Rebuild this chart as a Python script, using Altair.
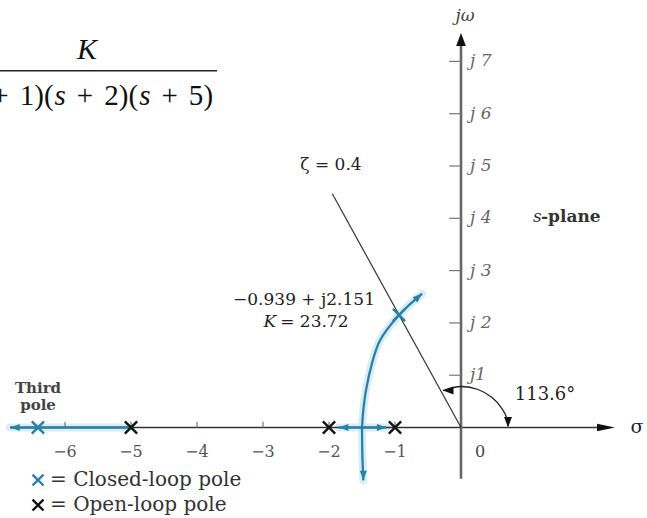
import altair as alt
import pandas as pd

# ---- s-plane window (real part sigma, imaginary part omega) ----
SIGMA_RANGE = [-6.985, 2.818]
OMEGA_RANGE = [-1.730, 8.174]

# ---- root locus of K / ((s+1)(s+2)(s+5)) ----
open_loop_poles = [-1.0, -2.0, -5.0]
closed_loop_re = [-0.939, -6.41]
closed_loop_im = [2.151, 0.0]

# complex branch leaving the breakaway point (upper half) and its lower stub
upper_re = [-1.5, -1.485, -1.44, -1.35, -1.23, -0.939, -0.59]
upper_im = [0.0, 0.27, 0.71, 1.22, 1.66, 2.151, 2.56]
lower_re = [-1.5, -1.495, -1.48]
lower_im = [0.0, -0.5, -1.01]
# real-axis parts of the locus
left_re = [-5.0, -6.83]
mid_re = [-1.85, -1.13]

# damping-ratio line, zeta = 0.4
zeta_re = [0.0, -1.95]
zeta_im = [0.0, 4.47]

# arc marking the 113.6 degree angle
arc_re = [-0.273, 0.0, 0.258, 0.47, 0.621, 0.697, 0.712]
arc_im = [0.707, 0.784, 0.727, 0.574, 0.363, 0.172, 0.03]

re_ticks = [-6, -5, -4, -3, -2, -1]
re_tick_labels = ["−6", "−5", "−4", "−3", "−2", "−1"]
im_ticks = [1, 2, 3, 4, 5, 6, 7]
im_tick_labels = ["j1", "j 2", "j 3", "j 4", "j 5", "j 6", "j 7"]

# denominator (s + 1)(s + 2)(s + 5), typeset glyph by glyph
den_glyphs = ["(", "s", "+", "1", ")", "(", "s", "+", "2", ")", "(", "s", "+", "5", ")"]
den_italic = [g == "s" for g in den_glyphs]

SERIF = "DejaVu Serif"
TIMES = "Liberation Serif"
BLUE = "#2a80a6"
HALO = "#cfe9f3"
X_SHAPE = "M-1,-1L1,1M-1,1L1,-1"
HEAD = "M0,0L-2,-0.75L-2,0.75Z"
SLIM_HEAD = "M0,0L-2,-0.42L-2,0.42Z"

xs = alt.Scale(domain=SIGMA_RANGE, nice=False, zero=False)
ys = alt.Scale(domain=OMEGA_RANGE, nice=False, zero=False)


def ex(f="x"):
    return alt.X(f"{f}:Q", scale=xs, axis=None)


def why(f="y"):
    return alt.Y(f"{f}:Q", scale=ys, axis=None)


def rules(df, color, width):
    return alt.Chart(df).mark_rule(color=color, strokeWidth=width).encode(
        x=ex("x"), x2=alt.X2("x2:Q"), y=why("y"), y2=alt.Y2("y2:Q")
    )


def label(text, sx, sy, size=16, align="center", font=SERIF, style="normal",
          weight="normal", color="#333"):
    df = pd.DataFrame({"x": [sx], "y": [sy], "t": [text]})
    return alt.Chart(df).mark_text(
        font=font, fontSize=size, align=align, baseline="middle",
        fontStyle=style, fontWeight=weight, color=color
    ).encode(x=ex(), y=why(), text="t:N")


# locus polylines
rows = []
for name, re_, im_ in [("upper", upper_re, upper_im), ("lower", lower_re, lower_im),
                       ("left", left_re, [0.0] * len(left_re)),
                       ("mid", mid_re, [0.0] * len(mid_re))]:
    for i, (a, b) in enumerate(zip(re_, im_)):
        rows.append({"seg": name, "i": i, "x": a, "y": b})
locus = pd.DataFrame(rows)

locus_enc = dict(x=ex(), y=why(), detail="seg:N", order=alt.Order("i:Q"))
halo = alt.Chart(locus).mark_line(color=HALO, strokeWidth=8, opacity=0.8,
                                  interpolate="catmull-rom", strokeCap="round").encode(**locus_enc)
branches = alt.Chart(locus).mark_line(color=BLUE, strokeWidth=2.3,
                                      interpolate="catmull-rom").encode(**locus_enc)

# axes
axis_h = rules(pd.DataFrame({"x": [left_re[-1]], "x2": [2.1], "y": [0.0], "y2": [0.0]}), "#333", 1.6)
axis_v = rules(pd.DataFrame({"x": [0.0], "x2": [0.0], "y": [-0.98], "y2": [7.3]}), "#666", 2.6)
im_tick_marks = rules(pd.DataFrame({"x": [-0.18] * 7, "x2": [0.0] * 7,
                                    "y": im_ticks, "y2": im_ticks}), "#777", 1.2)
re_tick_marks = rules(pd.DataFrame({"x": re_ticks, "x2": re_ticks,
                                    "y": [0.0] * 6, "y2": [0.11] * 6}), "#777", 1.2)

zeta = alt.Chart(pd.DataFrame({"x": zeta_re, "y": zeta_im, "i": [0, 1]})).mark_line(
    color="#333", strokeWidth=1.2).encode(x=ex(), y=why(), order=alt.Order("i:Q"))

arc = alt.Chart(pd.DataFrame({"x": arc_re, "y": arc_im, "i": range(len(arc_re))})).mark_line(
    color="#222", strokeWidth=1.3, interpolate="catmull-rom").encode(
    x=ex(), y=why(), order=alt.Order("i:Q"))


def heads(xv, yv, ang, shape, size, color):
    df = pd.DataFrame({"x": xv, "y": yv, "a": ang})
    return alt.Chart(df).mark_point(shape=shape, size=size, filled=True, color=color,
                                    opacity=1, strokeWidth=0).encode(
        x=ex(), y=why(), angle=alt.Angle("a:Q", scale=None))


blue_heads = heads([left_re[-1], mid_re[0], mid_re[1], upper_re[-1], lower_re[-1]],
                   [0.0, 0.0, 0.0, upper_im[-1], lower_im[-1]],
                   [180, 180, 0, 318, 90], HEAD, 90, BLUE)
axis_head_h = heads([2.333], [0.0], [0], SLIM_HEAD, 324, "#111")
axis_head_v = heads([0.0], [7.543], [270], HEAD, 170, "#111")
arc_heads = heads([arc_re[0], arc_re[-1]], [arc_im[0], arc_im[-1] - 0.03],
                  [180, 90], HEAD, 110, "#111")

# pole markers
open_marks = alt.Chart(pd.DataFrame({"x": open_loop_poles, "y": [0.0] * 3})).mark_point(
    shape=X_SHAPE, size=150, filled=False, color="#111", strokeWidth=2.4, opacity=1).encode(
    x=ex(), y=why())
closed_marks = alt.Chart(pd.DataFrame({"x": closed_loop_re, "y": closed_loop_im})).mark_point(
    shape=X_SHAPE, size=150, filled=False, color=BLUE, strokeWidth=2.4, opacity=1).encode(
    x=ex(), y=why())
legend_marks = alt.Chart(pd.DataFrame({"x": [-6.409, -6.409], "y": [-1.004, -1.482],
                                       "c": [BLUE, "#111"]})).mark_point(
    shape=X_SHAPE, size=120, filled=False, strokeWidth=2.4, opacity=1).encode(
    x=ex(), y=why(), color=alt.Color("c:N", scale=None))

# tick labels
re_lab = alt.Chart(pd.DataFrame({"x": re_ticks, "y": [-0.468] * 6, "t": re_tick_labels})).mark_text(
    font=SERIF, fontSize=16, color="#555", baseline="middle").encode(x=ex(), y=why(), text="t:N")
im_lab = alt.Chart(pd.DataFrame({"x": [0.136] * 7, "y": im_ticks, "t": im_tick_labels})).mark_text(
    font=SERIF, fontSize=17, fontStyle="italic", color="#666", align="left",
    baseline="middle").encode(x=ex(), y=why(), text="t:N")

# fraction K / ((s+1)(s+2)(s+5)); its left part runs off the page edge
frac_bar = rules(pd.DataFrame({"x": [-7.2], "x2": [-3.697], "y": [6.822], "y2": [6.822]}), "#222", 1.6)
DEN_Y = 6.338
FS = 29
INK = "#111"
den_pos = [-7.527, -7.348, -6.979, -6.577, -6.394, -6.247, -6.073, -5.697,
           -5.295, -5.112, -4.965, -4.791, -4.415, -4.014, -3.830]
den_texts = [
    label(g, p, DEN_Y, size=FS, font=TIMES, style="italic" if it else "normal", color=INK)
    for g, it, p in zip(den_glyphs, den_italic, den_pos)
]

texts = [
    label("K", -5.667, 7.218, size=30, font=TIMES, style="italic", color=INK),
    label("jω", 0.061, 7.868, size=17, style="italic", color="#444"),
    label("s", 1.091, 4.025, size=17, style="italic", color="#333", align="left"),
    label("-plane", 1.212, 4.025, size=17, weight="bold", color="#333", align="left"),
    label("ζ = 0.4", -1.970, 5.019, size=17, color="#222"),
    label("−0.939 + j2.151", -2.379, 2.438, size=17, color="#222"),
    label("K", -2.80, 2.017, size=17, style="italic", color="#222", align="right"),
    label("= 23.72", -2.74, 2.017, size=17, color="#222", align="left"),
    label("113.6°", 1.273, 0.621, size=18, color="#222"),
    label("σ", 2.667, 0.01, size=19, color="#222"),
    label("0", 0.288, -0.468, size=16, color="#444"),
    label("Third", -6.409, 0.755, size=15, weight="bold", color="#444"),
    label("pole", -6.409, 0.430, size=15, weight="bold", color="#444"),
    label("= Closed-loop pole", -6.227, -1.004, size=20, color="#333", align="left"),
    label("= Open-loop pole", -6.227, -1.482, size=20, color="#333", align="left"),
]

chart = alt.layer(
    halo, axis_h, axis_v, im_tick_marks, re_tick_marks, zeta, branches, arc,
    blue_heads, axis_head_h, axis_head_v, arc_heads,
    open_marks, closed_marks, legend_marks, re_lab, im_lab, frac_bar,
    *den_texts, *texts
).properties(
    width=647, height=518, padding=0,
    autosize=alt.AutoSizeParams(type="none"),
    background="white",
).configure_view(stroke=None)

chart.save("out.html", embed_options={"renderer": "svg", "actions": False})
